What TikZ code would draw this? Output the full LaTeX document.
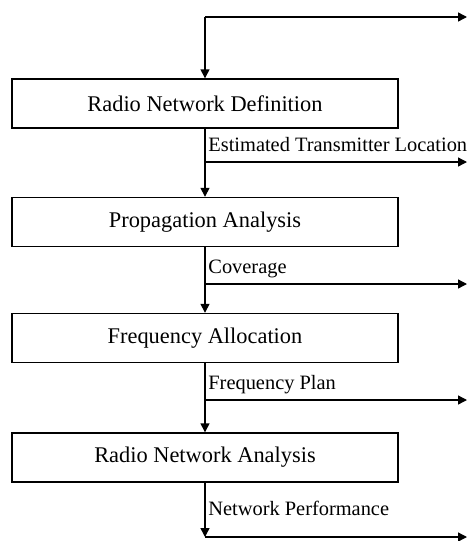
\documentclass[tikz,border=0pt]{standalone}
\usepackage{fontspec}
\setmainfont{Liberation Serif}
\usetikzlibrary{arrows.meta,positioning}
\tikzset{%
  link/.style={-{Triangle[length=4.5pt,width=4.5pt]},line width=0.7pt},
  stage/.style={rectangle,draw,line width=0.7pt,minimum width=193pt,minimum height=24.5pt,inner sep=0pt,anchor=center,font=\fontsize{11.2}{13}\selectfont},
  flow label/.style={anchor=base west,inner sep=0pt,font=\fontsize{10.2}{12}\selectfont}
}
\begin{document}
\begin{tikzpicture}[x=0.5pt,y=-0.5pt]
 \useasboundingbox (0,0) rectangle (468,541);

 \node[stage] (def) at (205,103.5) {Radio Network Definition};
 \node[stage] (prop) at (205,222) {Propagation Analysis};
 \node[stage] (freq) at (205,338) {Frequency Allocation};
 \node[stage] (ana) at (205,457.5) {Radio Network Analysis};

 \coordinate (t0) at (205,17);  \coordinate (t1) at (467,17);
 \coordinate (b1) at (205,162); \coordinate (e1) at (467,162);
 \coordinate (b2) at (205,284); \coordinate (e2) at (467,284);
 \coordinate (b3) at (205,400); \coordinate (e3) at (467,400);
 \coordinate (b4) at (205,537); \coordinate (e4) at (467,537);

 % loop back on top
 \draw[link] (t0) -- (t1);
 \draw[link] (t0) -- (def.north);

 \draw[line width=0.7pt] (def.south) -- (b1);
 \draw[link] (b1) -- (prop.north);
 \draw[link] (b1) -- (e1);
 \draw[line width=0.7pt] (prop.south) -- (b2);
 \draw[link] (b2) -- (freq.north);
 \draw[link] (b2) -- (e2);
 \draw[line width=0.7pt] (freq.south) -- (b3);
 \draw[link] (b3) -- (ana.north);
 \draw[link] (b3) -- (e3);
 \draw[link] (ana.south) -- (b4);
 \draw[link] (b4) -- (e4);

 \node[flow label] (l1) at ([shift={(1.5pt,5.5pt)}]b1) {Estimated Transmitter Location};
 \node[flow label] (l2) at ([shift={(1.5pt,5.5pt)}]b2) {Coverage};
 \node[flow label] (l3) at ([shift={(1.5pt,5.5pt)}]b3) {Frequency Plan};
 \node[flow label] (l4) at ([shift={(1.5pt,11pt)}]b4) {Network Performance};

\end{tikzpicture}
\end{document}
